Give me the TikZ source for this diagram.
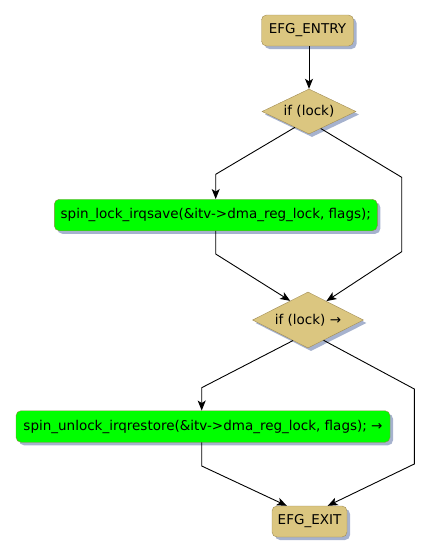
\documentclass[tikz,border=0pt]{standalone}
\usepackage{fontspec}
\setmainfont{DejaVu Sans}
\usetikzlibrary{shapes.geometric,shadows,arrows.meta,calc}
\definecolor{tanfill}{HTML}{DBC680}
\definecolor{tanborder}{HTML}{A08C55}
\definecolor{greenfill}{HTML}{00FF00}
\definecolor{greenborder}{HTML}{8A8A40}
\definecolor{shadowc}{HTML}{A6B2CE}
\tikzset{
  shd/.style={drop shadow={shadow xshift=3pt,shadow yshift=-3pt,fill=shadowc,opacity=1}},
  tanbox/.style={rectangle,rounded corners=5pt,draw=tanborder,fill=tanfill,shd,inner sep=0pt,font=\fontsize{13.5}{15}\selectfont},
  greenbox/.style={rectangle,rounded corners=5pt,draw=greenborder,fill=greenfill,shd,inner sep=0pt,font=\fontsize{13.5}{15}\selectfont},
  decision/.style={diamond,draw=tanborder,fill=tanfill,shd,inner sep=0pt,font=\fontsize{13.5}{15}\selectfont},
  conn/.style={draw=black,line width=0.9pt},
  arr/.style={conn,-{Stealth[length=10pt,width=8pt,inset=2.5pt]}}
}
\begin{document}
\begin{tikzpicture}[x=1pt,y=-1pt]
\useasboundingbox (0,0) rectangle (429,555);
\node[tanbox,minimum width=92pt,minimum height=31pt] (entry) at (307.5,30.5) {EFG\_ENTRY};
\node[decision,aspect=2.09,minimum width=94pt,minimum height=45pt] (d1) at (309,111.5) {if (lock)};
\node[greenbox,minimum width=323pt,minimum height=31.5pt] (b1) at (215.8,215) {spin\_lock\_irqsave(\&itv->dma\_reg\_lock, flags);};
\node[decision,aspect=1.98,minimum width=111pt,minimum height=56pt] (d2) at (308,320) {if (lock) →};
\node[greenbox,minimum width=374pt,minimum height=31.5pt] (b2) at (203,426.5) {spin\_unlock\_irqrestore(\&itv->dma\_reg\_lock, flags); →};
\node[tanbox,minimum width=75pt,minimum height=31pt] (exit) at (309.5,521.5) {EFG\_EXIT};

\coordinate (c1) at (215.7,174.3);
\coordinate (c2) at (401.7,177.3);
\coordinate (c3) at (215.7,254);
\coordinate (c4) at (401.7,251.7);
\coordinate (c5) at (201.7,387.7);
\coordinate (c6) at (414.3,389);
\coordinate (c7) at (201.7,466);
\coordinate (c8) at (414.3,464);

\draw[arr] (d1.north |- entry.south) -- (d1.north);
\draw[arr] ($(d1.south)!0.3!(d1.west)$) -- (c1) -- (c1 |- b1.north);
\draw[arr] ($(d1.south)!0.25!(d1.east)$) -- (c2) -- (c4) -- ($(d2.north)!0.33!(d2.east)$);
\draw[arr] (c3 |- b1.south) -- (c3) -- ($(d2.north)!0.32!(d2.west)$);
\draw[arr] ($(d2.south)!0.27!(d2.west)$) -- (c5) -- (c5 |- b2.north);
\draw[arr] ($(d2.south)!0.28!(d2.east)$) -- (c6) -- (c8) -- ($(exit.north east)+(-19.5,0)$);
\draw[arr] (c7 |- b2.south) -- (c7) -- ($(exit.north west)+(15,0)$);
\end{tikzpicture}
\end{document}
